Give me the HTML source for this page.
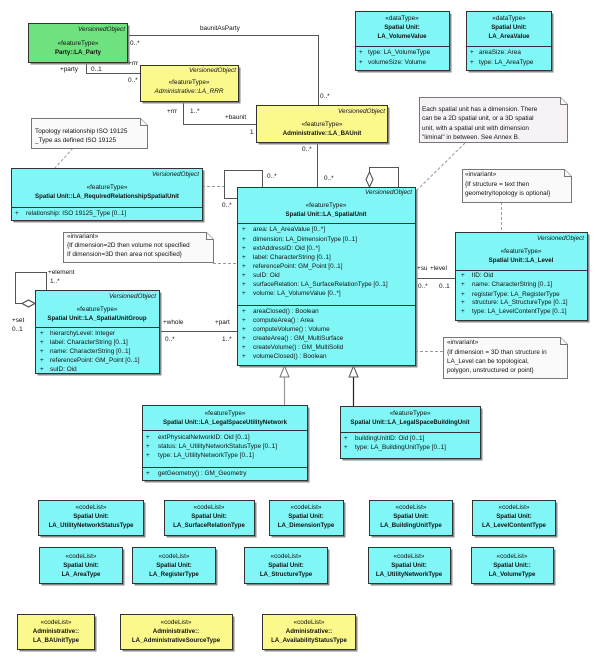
<!DOCTYPE html>
<html><head><meta charset="utf-8"><style>
html,body{margin:0;padding:0;background:#fff;}
svg{display:block;}
text{font-family:"Liberation Sans",sans-serif;font-size:6.4px;fill:#111;}
.b{font-weight:bold;font-size:6.1px;}
.i{font-style:italic;}
.c{text-anchor:middle;}
.r{text-anchor:end;}
.sh{fill:#888;}
.cy{fill:#80f6f6;stroke:#333;stroke-width:1;}
.ye{fill:#fcf98c;stroke:#333;stroke-width:1;}
.gr{fill:#6ee27e;stroke:#333;stroke-width:1;}
.dv{stroke:#333;stroke-width:1;}
.ln{stroke:#555;stroke-width:1;fill:none;}
.dl{stroke:#999;stroke-width:1;fill:none;stroke-dasharray:3,2;}
.nt{fill:#fafafa;stroke:#777;stroke-width:1;}
</style></head><body>
<svg width="600" height="672" viewBox="0 0 600 672">

<!-- connectors -->
<path class="ln" d="M127.5 35.5 H318.5 V105"/>
<path class="ln" d="M86.5 62 V73.5 H140"/>
<path class="ln" d="M183.5 101 V124.5 H256"/>
<path class="ln" d="M317.5 142 V187"/>
<path class="ln" d="M262.5 187 V170.5 H224.5 V198.5 H237"/>
<path class="ln" d="M369.5 172 V167.5 H398.5 V187"/>
<path d="M369.5 172 L373 179.5 L369.5 187 L366 179.5 Z" fill="#fff" stroke="#444"/>
<path class="ln" d="M415 278.5 H455"/>
<path class="ln" d="M159 331.5 H237"/>
<path class="ln" d="M22 303.5 H15.5 V272.5 H46.5 V290"/>
<path d="M35 303.5 L28.5 300 L22 303.5 L28.5 307 Z" fill="#fff" stroke="#444"/>
<path d="M284.5 377 V405" stroke="#999" stroke-width="1.2"/>
<path d="M284.5 366 L289 377 L280 377 Z" fill="#fff" stroke="#777"/>
<path d="M353.5 377 V406" stroke="#222" stroke-width="1.2"/>
<path d="M353.5 366 L358 377 L349 377 Z" fill="#fff" stroke="#555"/>

<!-- dashed -->
<path class="dl" d="M465 143 L415 192"/>
<path class="dl" d="M501.5 202 V232"/>
<path class="dl" d="M73 148 L55 168"/>
<path class="dl" d="M202 186.5 H224"/>
<path class="dl" d="M213 263.5 H237"/>
<path class="dl" d="M415 351.5 H443"/>

<!-- connector labels -->
<text x="200" y="30">baunitAsParty</text>
<text x="130" y="45">0..*</text>
<text x="320" y="98">0..*</text>
<text x="60" y="71">+party</text>
<text x="91" y="71">0..1</text>
<text x="128" y="65">+rrr</text>
<text x="128" y="82">0..*</text>
<text x="167" y="113">+rrr</text>
<text x="190" y="113">1..*</text>
<text x="225" y="119">+baunit</text>
<text x="250" y="134">1</text>
<text x="302" y="151">0..*</text>
<text x="324" y="180">0..*</text>
<text x="267" y="178">0..*</text>
<text x="222" y="207">0..*</text>
<text x="417" y="270">+su</text>
<text x="430" y="270">+level</text>
<text x="418" y="288">0..*</text>
<text x="439" y="288">0..1</text>
<text x="163" y="324">+whole</text>
<text x="215" y="324">+part</text>
<text x="165" y="341">0..*</text>
<text x="222" y="341">1..*</text>
<text x="48" y="274">+element</text>
<text x="50" y="283">1..*</text>
<text x="12" y="322">+set</text>
<text x="12" y="331">0..1</text>

<!-- LA_Party -->
<rect class="sh" x="30.5" y="25.5" width="99" height="39"/>
<rect class="gr" x="28.5" y="23.5" width="99" height="39"/>
<text class="i r" x="125" y="31">VersionedObject</text>
<text class="c" x="78" y="45">«featureType»</text>
<text class="b c" x="78" y="54">Party::LA_Party</text>

<!-- LA_RRR -->
<rect class="sh" x="142.5" y="67.5" width="98" height="36"/>
<rect class="ye" x="140.5" y="65.5" width="98" height="36"/>
<text class="i r" x="236" y="72">VersionedObject</text>
<text class="c" x="189" y="84">«featureType»</text>
<text class="i c" x="189" y="93">Administrative::LA_RRR</text>

<!-- LA_BAUnit -->
<rect class="sh" x="258.5" y="107.5" width="131" height="37"/>
<rect class="ye" x="256.5" y="105.5" width="131" height="37"/>
<text class="i r" x="385" y="113">VersionedObject</text>
<text class="c" x="322" y="126">«featureType»</text>
<text class="b c" x="322" y="135">Administrative::LA_BAUnit</text>

<!-- datatypes -->
<rect class="sh" x="357.5" y="13.5" width="94" height="59"/>
<rect class="cy" x="355.5" y="11.5" width="94" height="59"/>
<line class="dv" x1="355.5" y1="46.5" x2="449.5" y2="46.5"/>
<text class="c" x="402" y="20">«dataType»</text>
<text class="b c" x="402" y="29">Spatial Unit:</text>
<text class="b c" x="402" y="38">LA_VolumeValue</text>
<text x="359" y="54">+</text><text x="368" y="54">type: LA_VolumeType</text>
<text x="359" y="64">+</text><text x="368" y="64">volumeSize: Volume</text>

<rect class="sh" x="468.5" y="13.5" width="85" height="59"/>
<rect class="cy" x="466.5" y="11.5" width="85" height="59"/>
<line class="dv" x1="466.5" y1="46.5" x2="551.5" y2="46.5"/>
<text class="c" x="509" y="20">«dataType»</text>
<text class="b c" x="509" y="29">Spatial Unit:</text>
<text class="b c" x="509" y="38">LA_AreaValue</text>
<text x="470" y="54">+</text><text x="479" y="54">areaSize: Area</text>
<text x="470" y="64">+</text><text x="479" y="64">type: LA_AreaType</text>

<!-- notes -->
<path class="nt" d="M31.5 118.5 H140.5 L147.5 125.5 V148.5 H31.5 Z"/>
<path class="nt" d="M140.5 118.5 V125.5 H147.5" fill="none"/>
<text x="35" y="133">Topology relationship ISO 19125</text>
<text x="35" y="142">_Type as defined ISO 19125</text>

<path class="nt" d="M419.5 97.5 H560.5 L567.5 104.5 V142.5 H419.5 Z" style="fill:#f6f2f6"/>
<path class="nt" d="M560.5 97.5 V104.5 H567.5" fill="none"/>
<text x="422" y="111">Each spatial unit has a dimension. There</text>
<text x="422" y="120">can be a 2D spatial unit, or a 3D spatial</text>
<text x="422" y="130">unit, with a spatial unit with dimension</text>
<text x="422" y="139">"liminal" in between.  See Annex B.</text>

<path class="nt" d="M462.5 169.5 H564.5 L571.5 176.5 V202.5 H462.5 Z"/>
<path class="nt" d="M564.5 169.5 V176.5 H571.5" fill="none"/>
<text x="465" y="176">«invariant»</text>
<text x="465" y="186">{If structure = text then</text>
<text x="465" y="195">geometry/topology is optional}</text>

<path class="nt" d="M63.5 232.5 H206.5 L213.5 239.5 V262.5 H63.5 Z"/>
<path class="nt" d="M206.5 232.5 V239.5 H213.5" fill="none"/>
<text x="67" y="238">«invariant»</text>
<text x="67" y="247">{If dimension=2D then volume not specified</text>
<text x="67" y="256">If dimension=3D then area not specified}</text>

<path class="nt" d="M443.5 337.5 H560.5 L567.5 344.5 V378.5 H443.5 Z"/>
<path class="nt" d="M560.5 337.5 V344.5 H567.5" fill="none"/>
<text x="447" y="344">«invariant»</text>
<text x="447" y="354">{If dimension = 3D than structure in</text>
<text x="447" y="363">LA_Level can be topological,</text>
<text x="447" y="372">polygon, unstructured or point}</text>

<!-- RequiredRelationship -->
<rect class="sh" x="13.5" y="170.5" width="191" height="52"/>
<rect class="cy" x="11.5" y="168.5" width="191" height="52"/>
<line class="dv" x1="11.5" y1="207.5" x2="202.5" y2="207.5"/>
<text class="i r" x="199" y="176">VersionedObject</text>
<text class="c" x="107" y="189">«featureType»</text>
<text class="b c" x="107" y="198">Spatial Unit::LA_RequiredRelationshipSpatialUnit</text>
<text x="15" y="215">+</text><text x="26" y="215">relationship: ISO 19125_Type [0..1]</text>

<!-- LA_SpatialUnit -->
<rect class="sh" x="239.5" y="189.5" width="178" height="178"/>
<rect class="cy" x="237.5" y="187.5" width="178" height="178"/>
<line class="dv" x1="237.5" y1="223.5" x2="415.5" y2="223.5"/>
<line class="dv" x1="237.5" y1="305.5" x2="415.5" y2="305.5"/>
<text class="i r" x="412" y="194">VersionedObject</text>
<text class="c" x="326" y="207">«featureType»</text>
<text class="b c" x="326" y="216">Spatial Unit::LA_SpatialUnit</text>
<text x="242" y="231">+</text><text x="253" y="231">area: LA_AreaValue [0..*]</text>
<text x="242" y="241">+</text><text x="253" y="241">dimension: LA_DimensionType [0..1]</text>
<text x="242" y="250">+</text><text x="253" y="250">extAddressID: Oid [0..*]</text>
<text x="242" y="259">+</text><text x="253" y="259">label: CharacterString [0..1]</text>
<text x="242" y="268">+</text><text x="253" y="268">referencePoint: GM_Point [0..1]</text>
<text x="242" y="277">+</text><text x="253" y="277">suID: Oid</text>
<text x="242" y="286">+</text><text x="253" y="286">surfaceRelation: LA_SurfaceRelationType [0..1]</text>
<text x="242" y="295">+</text><text x="253" y="295">volume: LA_VolumeValue [0..*]</text>
<text x="242" y="313">+</text><text x="253" y="313">areaClosed() : Boolean</text>
<text x="242" y="322">+</text><text x="253" y="322">computeArea() : Area</text>
<text x="242" y="331">+</text><text x="253" y="331">computeVolume() : Volume</text>
<text x="242" y="340">+</text><text x="253" y="340">createArea() : GM_MultiSurface</text>
<text x="242" y="349">+</text><text x="253" y="349">createVolume() : GM_MultiSolid</text>
<text x="242" y="358">+</text><text x="253" y="358">volumeClosed() : Boolean</text>

<!-- LA_Level -->
<rect class="sh" x="457.5" y="234.5" width="132" height="88"/>
<rect class="cy" x="455.5" y="232.5" width="132" height="88"/>
<line class="dv" x1="455.5" y1="270.5" x2="587.5" y2="270.5"/>
<text class="i r" x="584" y="240">VersionedObject</text>
<text class="c" x="521" y="253">«featureType»</text>
<text class="b c" x="521" y="262">Spatial Unit::LA_Level</text>
<text x="461" y="277">+</text><text x="472" y="277">lID: Oid</text>
<text x="461" y="286">+</text><text x="472" y="286">name: CharacterString [0..1]</text>
<text x="461" y="296">+</text><text x="472" y="296">registerType: LA_RegisterType</text>
<text x="461" y="304">+</text><text x="472" y="304">structure: LA_StructureType [0..1]</text>
<text x="461" y="313">+</text><text x="472" y="313">type: LA_LevelContentType [0..1]</text>

<!-- LA_SpatialUnitGroup -->
<rect class="sh" x="37.5" y="292.5" width="124" height="83"/>
<rect class="cy" x="35.5" y="290.5" width="124" height="83"/>
<line class="dv" x1="35.5" y1="327.5" x2="159.5" y2="327.5"/>
<text class="i r" x="156" y="298">VersionedObject</text>
<text class="c" x="97" y="311">«featureType»</text>
<text class="b c" x="97" y="320">Spatial Unit::LA_SpatialUnitGroup</text>
<text x="40" y="335">+</text><text x="50" y="335">hierarchyLevel: Integer</text>
<text x="40" y="344">+</text><text x="50" y="344">label: CharacterString [0..1]</text>
<text x="40" y="353">+</text><text x="50" y="353">name: CharacterString [0..1]</text>
<text x="40" y="362">+</text><text x="50" y="362">referencePoint: GM_Point [0..1]</text>
<text x="40" y="371">+</text><text x="50" y="371">suID: Oid</text>

<!-- LA_LegalSpaceUtilityNetwork -->
<rect class="sh" x="144.5" y="407.5" width="165" height="75"/>
<rect class="cy" x="142.5" y="405.5" width="165" height="75"/>
<line class="dv" x1="142.5" y1="430.5" x2="307.5" y2="430.5"/>
<line class="dv" x1="142.5" y1="467.5" x2="307.5" y2="467.5"/>
<text class="c" x="225" y="415">«featureType»</text>
<text class="b c" x="225" y="424">Spatial Unit::LA_LegalSpaceUtilityNetwork</text>
<text x="146" y="439">+</text><text x="158" y="439">extPhysicalNetworkID: Oid [0..1]</text>
<text x="146" y="448">+</text><text x="158" y="448">status: LA_UtilityNetworkStatusType [0..1]</text>
<text x="146" y="457">+</text><text x="158" y="457">type: LA_UtilityNetworkType [0..1]</text>
<text x="146" y="475">+</text><text x="158" y="475">getGeometry() : GM_Geometry</text>

<!-- LA_LegalSpaceBuildingUnit -->
<rect class="sh" x="342.5" y="408.5" width="140" height="52"/>
<rect class="cy" x="340.5" y="406.5" width="140" height="52"/>
<line class="dv" x1="340.5" y1="432.5" x2="480.5" y2="432.5"/>
<text class="c" x="410" y="415">«featureType»</text>
<text class="b c" x="410" y="424">Spatial Unit::LA_LegalSpaceBuildingUnit</text>
<text x="344" y="440">+</text><text x="355" y="440">buildingUnitID: Oid [0..1]</text>
<text x="344" y="449">+</text><text x="355" y="449">type: LA_BuildingUnitType [0..1]</text>

<!-- codelists row 1 -->
<rect class="sh" x="40.5" y="502.5" width="105" height="35"/>
<rect class="cy" x="38.5" y="500.5" width="105" height="35"/>
<text class="c" x="91" y="509">«codeList»</text>
<text class="b c" x="91" y="518">Spatial Unit:</text>
<text class="b c" x="91" y="527">LA_UtilityNetworkStatusType</text>

<rect class="sh" x="166.5" y="502.5" width="90" height="35"/>
<rect class="cy" x="164.5" y="500.5" width="90" height="35"/>
<text class="c" x="209" y="509">«codeList»</text>
<text class="b c" x="209" y="518">Spatial Unit:</text>
<text class="b c" x="209" y="527">LA_SurfaceRelationType</text>

<rect class="sh" x="271.5" y="502.5" width="74" height="35"/>
<rect class="cy" x="269.5" y="500.5" width="74" height="35"/>
<text class="c" x="306" y="509">«codeList»</text>
<text class="b c" x="306" y="518">Spatial Unit:</text>
<text class="b c" x="306" y="527">LA_DimensionType</text>

<rect class="sh" x="371.5" y="502.5" width="83" height="35"/>
<rect class="cy" x="369.5" y="500.5" width="83" height="35"/>
<text class="c" x="411" y="509">«codeList»</text>
<text class="b c" x="411" y="518">Spatial Unit:</text>
<text class="b c" x="411" y="527">LA_BuildingUnitType</text>

<rect class="sh" x="474.5" y="502.5" width="83" height="35"/>
<rect class="cy" x="472.5" y="500.5" width="83" height="35"/>
<text class="c" x="514" y="509">«codeList»</text>
<text class="b c" x="514" y="518">Spatial Unit:</text>
<text class="b c" x="514" y="527">LA_LevelContentType</text>

<!-- codelists row 2 -->
<rect class="sh" x="41.5" y="549.5" width="83" height="36"/>
<rect class="cy" x="39.5" y="547.5" width="83" height="36"/>
<text class="c" x="81" y="558">«codeList»</text>
<text class="b c" x="81" y="567">Spatial Unit:</text>
<text class="b c" x="81" y="576">LA_AreaType</text>

<rect class="sh" x="134.5" y="549.5" width="83" height="36"/>
<rect class="cy" x="132.5" y="547.5" width="83" height="36"/>
<text class="c" x="174" y="558">«codeList»</text>
<text class="b c" x="174" y="567">Spatial Unit:</text>
<text class="b c" x="174" y="576">LA_RegisterType</text>

<rect class="sh" x="246.5" y="549.5" width="83" height="36"/>
<rect class="cy" x="244.5" y="547.5" width="83" height="36"/>
<text class="c" x="286" y="558">«codeList»</text>
<text class="b c" x="286" y="567">Spatial Unit:</text>
<text class="b c" x="286" y="576">LA_StructureType</text>

<rect class="sh" x="370.5" y="549.5" width="82" height="36"/>
<rect class="cy" x="368.5" y="547.5" width="82" height="36"/>
<text class="c" x="409" y="558">«codeList»</text>
<text class="b c" x="409" y="567">Spatial Unit:</text>
<text class="b c" x="409" y="576">LA_UtilityNetworkType</text>

<rect class="sh" x="473.5" y="549.5" width="82" height="36"/>
<rect class="cy" x="471.5" y="547.5" width="82" height="36"/>
<text class="c" x="512" y="558">«codeList»</text>
<text class="b c" x="512" y="567">Spatial Unit::</text>
<text class="b c" x="512" y="576">LA_VolumeType</text>

<!-- administrative codelists -->
<rect class="sh" x="19.5" y="616.5" width="77" height="35"/>
<rect class="ye" x="17.5" y="614.5" width="77" height="35"/>
<text class="c" x="56" y="624">«codeList»</text>
<text class="b c" x="56" y="633">Administrative::</text>
<text class="b c" x="56" y="642">LA_BAUnitType</text>

<rect class="sh" x="122.5" y="616.5" width="112" height="35"/>
<rect class="ye" x="120.5" y="614.5" width="112" height="35"/>
<text class="c" x="176" y="624">«codeList»</text>
<text class="b c" x="176" y="633">Administrative::</text>
<text class="b c" x="176" y="642">LA_AdministrativeSourceType</text>

<rect class="sh" x="264.5" y="616.5" width="93" height="35"/>
<rect class="ye" x="262.5" y="614.5" width="93" height="35"/>
<text class="c" x="309" y="624">«codeList»</text>
<text class="b c" x="309" y="633">Administrative::</text>
<text class="b c" x="309" y="642">LA_AvailabilityStatusType</text>

</svg>
</body></html>
